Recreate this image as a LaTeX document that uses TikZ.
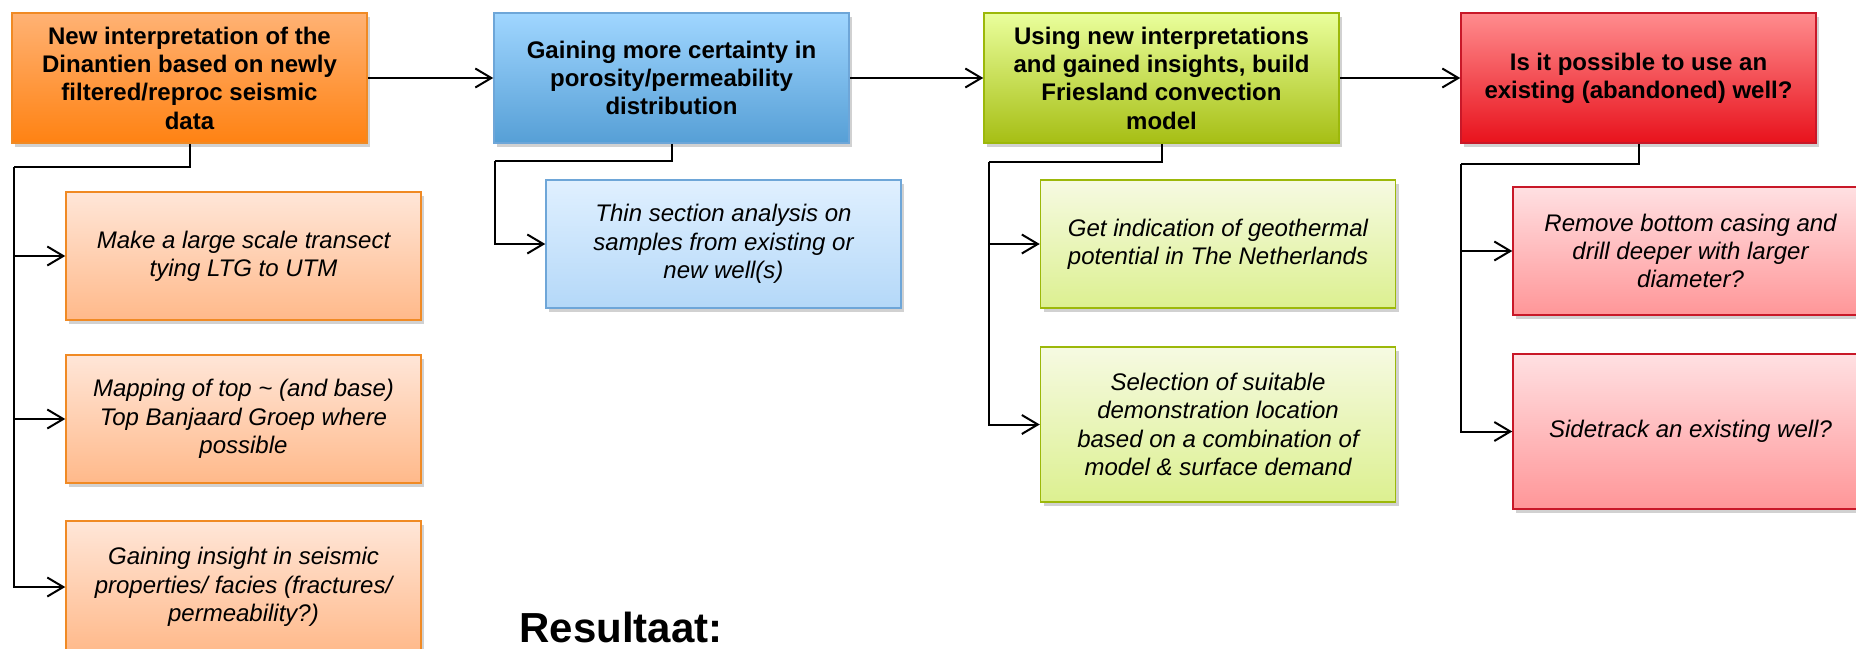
\documentclass[tikz,border=0pt]{standalone}
\usepackage{fontspec}
\setmainfont{Liberation Sans}
\usetikzlibrary{arrows.meta,shadows}
\definecolor{orTop}{HTML}{FFB274}
\definecolor{orBot}{HTML}{FF8212}
\definecolor{orLine}{HTML}{F08A24}
\definecolor{orsTop}{HTML}{FFE6D8}
\definecolor{orsBot}{HTML}{FFB98A}
\definecolor{blTop}{HTML}{A0D6FF}
\definecolor{blBot}{HTML}{569FD6}
\definecolor{blLine}{HTML}{6EA6D8}
\definecolor{blsTop}{HTML}{E0F0FF}
\definecolor{blsBot}{HTML}{B4D8F8}
\definecolor{grTop}{HTML}{EAFF9C}
\definecolor{grBot}{HTML}{A6BE14}
\definecolor{grLine}{HTML}{9CB80A}
\definecolor{grsTop}{HTML}{F6FAE2}
\definecolor{grsBot}{HTML}{DCF090}
\definecolor{rdTop}{HTML}{FF8C8E}
\definecolor{rdBot}{HTML}{E8121C}
\definecolor{rdLine}{HTML}{C81828}
\definecolor{rdsTop}{HTML}{FFE0E2}
\definecolor{rdsBot}{HTML}{FF9698}
\begin{document}
\begin{tikzpicture}[x=0.5pt,y=0.5pt,
  box/.style={draw, line width=0.75pt, minimum width=177.5pt, minimum height=64pt,
    align=center, inner sep=0pt,
    drop shadow={shadow xshift=1.5pt,shadow yshift=-2pt,opacity=0.3,fill=black!60}},
  mainbox/.style={box, minimum height=65pt, font=\bfseries\fontsize{12}{14.15}\selectfont},
  subbox/.style={box, font=\itshape\fontsize{12}{14.15}\selectfont},
  orm/.style={mainbox, top color=orTop, bottom color=orBot, draw=orLine},
  ors/.style={subbox, top color=orsTop, bottom color=orsBot, draw=orLine},
  blm/.style={mainbox, top color=blTop, bottom color=blBot, draw=blLine},
  bls/.style={subbox, top color=blsTop, bottom color=blsBot, draw=blLine},
  grm/.style={mainbox, top color=grTop, bottom color=grBot, draw=grLine},
  grs/.style={subbox, top color=grsTop, bottom color=grsBot, draw=grLine},
  rdm/.style={mainbox, top color=rdTop, bottom color=rdBot, draw=rdLine},
  rds/.style={subbox, top color=rdsTop, bottom color=rdsBot, draw=rdLine},
  conn/.style={line width=1pt, black},
  arr/.style={conn, -{Straight Barb[length=8pt,width=9.5pt]}}
]
\useasboundingbox (0,0) rectangle (1856,-648);

% main boxes
\node[orm] (om) at (189.5,-78) {New interpretation of the\\Dinantien based on newly\\filtered/reproc seismic\\data};
\node[blm] (bm) at (671.5,-78) {Gaining more certainty in\\porosity/permeability\\distribution};
\node[grm] (gm) at (1161.5,-78) {Using new interpretations\\and gained insights, build\\Friesland convection\\model};
\node[rdm] (rm) at (1638.5,-78) {Is it possible to use an\\existing (abandoned) well?};

% sub boxes
\node[ors] (o1) at (243.5,-256) {Make a large scale transect\\tying LTG to UTM};
\node[ors] (o2) at (243.5,-419) {Mapping of top \textasciitilde{} (and base)\\Top Banjaard Groep where\\possible};
\node[ors, minimum height=66pt] (o3) at (243.5,-587) {Gaining insight in seismic\\properties/ facies (fractures/\\permeability?)};
\node[bls] (b1) at (723.5,-244) {Thin section analysis on\\samples from existing or\\new well(s)};
\node[grs] (g1) at (1218,-244) {Get indication of geothermal\\potential in The Netherlands};
\node[grs, minimum height=77.5pt] (g2) at (1218,-424.5) {Selection of suitable\\demonstration location\\based on a combination of\\model \& surface demand};
\node[rds] (r1) at (1690.5,-251) {Remove bottom casing and\\drill deeper with larger\\diameter?};
\node[rds, minimum height=77.5pt] (r2) at (1690.5,-431.5) {Sidetrack an existing well?};

% main flow
\draw[arr] (om.east) -- (bm.west);
\draw[arr] (bm.east) -- (gm.west);
\draw[arr] (gm.east) -- (rm.west);

% branch joints
\coordinate (oj) at (14,-167);
\coordinate (bj) at (495,-161);
\coordinate (gj) at (989,-162);
\coordinate (rj) at (1461,-164);

\draw[conn] (om.south) |- (oj);
\draw[arr] (oj) |- (o1.west);
\draw[arr] (oj) |- (o2.west);
\draw[arr] (oj) |- (o3.west);

\draw[conn] (bm.south) |- (bj);
\draw[arr] (bj) |- (b1.west);

\draw[conn] (gm.south) |- (gj);
\draw[arr] (gj) |- (g1.west);
\draw[arr] (gj) |- (g2.west);

\draw[conn] (rm.south) |- (rj);
\draw[arr] (rj) |- (r1.west);
\draw[arr] (rj) |- (r2.west);

\node[anchor=base west, font=\bfseries\fontsize{21}{25}\selectfont, inner sep=0pt] (res) at (519,-642) {Resultaat:};
\end{tikzpicture}
\end{document}
